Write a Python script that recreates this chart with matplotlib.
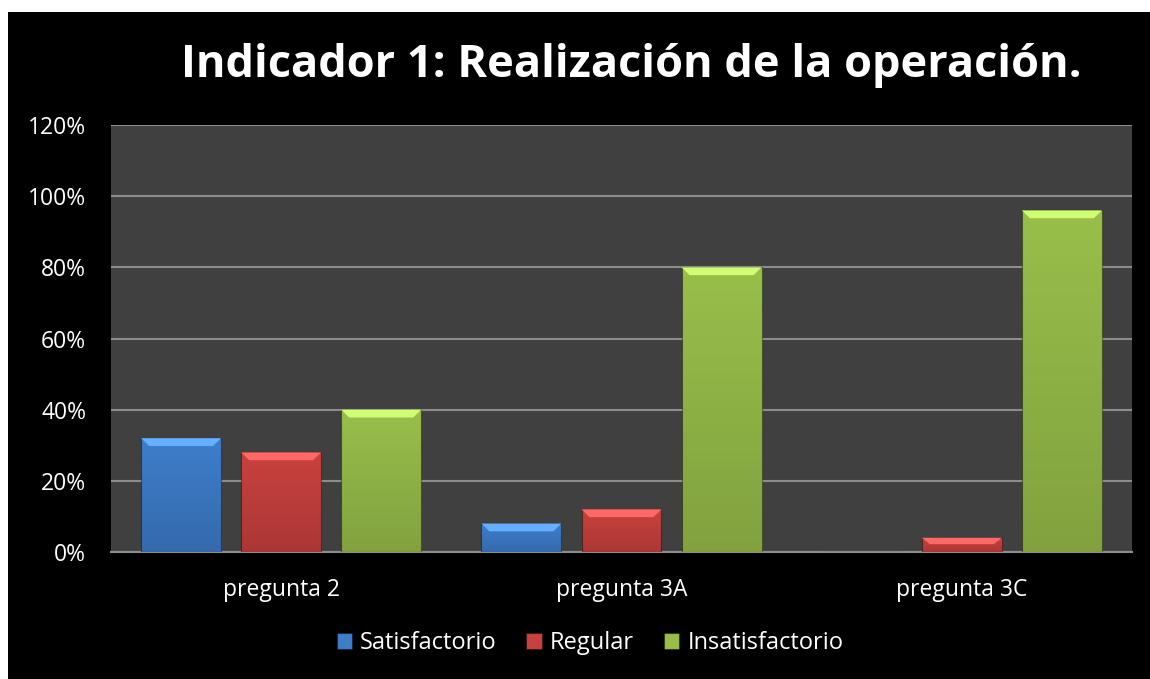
import numpy as np
import matplotlib
matplotlib.use("Agg")
import matplotlib.pyplot as plt
from matplotlib.patches import Rectangle, Polygon
import matplotlib.colors as mcolors

plt.rcParams['font.family'] = ['Open Sans', 'DejaVu Sans']

# data
categories = ['pregunta 2', 'pregunta 3A', 'pregunta 3C']
series_names = ['Satisfactorio', 'Regular', 'Insatisfactorio']
satisfactorio = [0.32, 0.08, 0.0]
regular = [0.28, 0.12, 0.04]
insatisfactorio = [0.40, 0.80, 0.96]
yticks = [0, 0.2, 0.4, 0.6, 0.8, 1.0, 1.2]

series = [satisfactorio, regular, insatisfactorio]
colors = ['#3E7DCB', '#C9413E', '#98BE4A']

fig = plt.figure(figsize=(11.5, 6.79), dpi=100)
fig.patch.set_facecolor('white')
# black chart area (small white margin top/left like the original)
fig.patches.append(Rectangle((8 / 1150, 0), 1, 1 - 12 / 679, transform=fig.transFigure,
                             facecolor='black', edgecolor='none', zorder=-10))

ax = fig.add_axes([111 / 1150, 1 - 552 / 679, 1021 / 1150, 427 / 679])
ax.set_facecolor('#404040')

x = np.arange(len(categories))
width = 0.235
offsets = [-0.294, 0, 0.294]

# vertical shading: transparent at top, a bit darker at bottom
shade = np.linspace(0, 1, 64).reshape(-1, 1)
shade_cmap = mcolors.LinearSegmentedColormap.from_list('shade', [(0, 0, 0, 0), (0, 0, 0, 0.15)])

handles = []
for vals, off, col, name in zip(series, offsets, colors, series_names):
    bars = ax.bar(x + off, vals, width, color=col, edgecolor=mcolors.to_rgba('black', 0.35),
                  linewidth=0.8, zorder=3, label=name)
    handles.append(bars)
    light = [min(1, c * 1.2 + 0.1) for c in mcolors.to_rgb(col)]
    for b in bars:
        h = b.get_height()
        if h <= 0:
            continue
        x0, w = b.get_x(), b.get_width()
        im = ax.imshow(shade, extent=(x0, x0 + w, 0, h), origin='upper', cmap=shade_cmap,
                       aspect='auto', zorder=3.5, interpolation='bilinear')
        im.set_clip_path(b)
        bev = min(0.022, h * 0.45)
        dx = w * 0.1
        ax.add_patch(Polygon([(x0, h), (x0 + w, h), (x0 + w - dx, h - bev), (x0 + dx, h - bev)],
                             closed=True, facecolor=light, edgecolor='none', zorder=4))

ax.set_xlim(-0.5, 2.5)
ax.set_ylim(0, 1.2)
ax.set_yticks(yticks)
ax.set_yticklabels(['{:.0f}%'.format(v * 100) for v in yticks])
ax.set_xticks(x)
ax.set_xticklabels(categories)
ax.tick_params(axis='both', length=0, colors='white')
ax.tick_params(axis='x', pad=19, labelsize=16.5)
ax.tick_params(axis='y', pad=18, labelsize=16.5)
ax.yaxis.grid(True, color='#8C8C8C', linewidth=1.5, zorder=0)
ax.set_axisbelow(True)
for s in ['top', 'right', 'left']:
    ax.spines[s].set_visible(False)
ax.spines['bottom'].set_color('#8C8C8C')
ax.spines['bottom'].set_linewidth(1.5)

fig.text(631 / 1150, 1 - 77 / 679, 'Indicador 1: Realización de la operación.', color='white',
         fontsize=32.5, fontweight='bold', ha='center', va='baseline')

leg = fig.legend(handles=handles, labels=series_names, loc='center', bbox_to_anchor=(590 / 1150, 1 - 643 / 679),
                 ncol=3, frameon=False, fontsize=17, handlelength=0.65, handleheight=0.65,
                 handletextpad=0.35, columnspacing=1.25, labelcolor='white')

fig.savefig('out.png', dpi=100, facecolor=fig.get_facecolor())
